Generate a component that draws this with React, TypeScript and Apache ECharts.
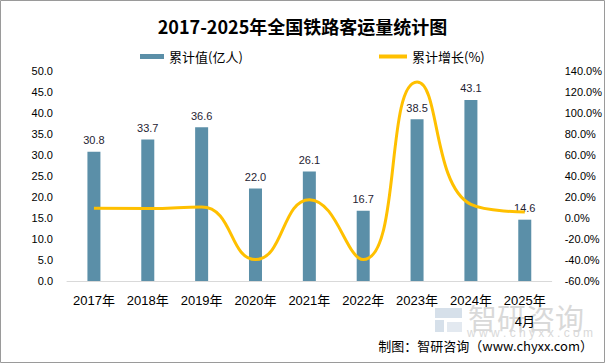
import React, { useEffect, useRef } from "react";
import * as echarts from "echarts";

const categories = ["2017年", "2018年", "2019年", "2020年", "2021年", "2022年", "2023年", "2024年", "2025年\n4月"];
const volumes = [30.8, 33.7, 36.6, 22.0, 26.1, 16.7, 38.5, 43.1, 14.6];
const growth = [9.2, 9.0, 10.5, -39.6, 17.5, -39.6, 129.5, 13.0, 5.8];
const leftTicks = { min: 0, max: 50, interval: 5 };
const rightTicks = { min: -60, max: 140, interval: 20 };

const SANS = "'Liberation Sans', 'Noto Sans CJK SC', sans-serif";
const CJK = "'Noto Sans CJK SC', sans-serif";

export default function App() {
  const ref = useRef<HTMLDivElement>(null);
  useEffect(() => {
    if (!ref.current) return;
    const chart = echarts.init(ref.current, null, { renderer: "svg" });
    chart.setOption({
      animation: false,
      backgroundColor: "#ffffff",
      textStyle: { fontFamily: SANS },
      title: {
        text: "2017-2025年全国铁路客运量统计图",
        left: "center",
        top: 12,
        textStyle: { fontFamily: CJK, fontSize: 18, fontWeight: "bold", color: "#000" },
      },
      legend: [
        {
          data: [{ name: "累计值(亿人)", icon: "rect" }],
          left: 135,
          top: 45,
          itemWidth: 24,
          itemHeight: 5,
          itemGap: 5,
          textStyle: { fontFamily: CJK, fontSize: 13, color: "#000" },
        },
        {
          data: [{ name: "累计增长(%)", icon: "rect" }],
          left: 374,
          top: 45,
          itemWidth: 28,
          itemHeight: 4,
          textStyle: { fontFamily: CJK, fontSize: 13, color: "#000" },
        },
      ],
      grid: { left: 67, right: 53, top: 71, bottom: 82 },
      xAxis: {
        type: "category",
        data: categories,
        axisLine: { lineStyle: { color: "#D9D9D9", width: 1 } },
        axisTick: { show: false },
        axisLabel: { fontSize: 13, color: "#000", margin: 9, lineHeight: 21, interval: 0 },
      },
      yAxis: [
        {
          type: "value",
          ...leftTicks,
          splitLine: { show: false },
          axisLine: { show: false },
          axisTick: { show: false },
          axisLabel: { fontSize: 11, color: "#000", margin: 14, formatter: (v: number) => v.toFixed(1) },
        },
        {
          type: "value",
          ...rightTicks,
          splitLine: { show: false },
          axisLine: { show: false },
          axisTick: { show: false },
          axisLabel: { fontSize: 11, color: "#000", margin: 13, formatter: (v: number) => v.toFixed(1) + "%" },
        },
      ],
      series: [
        {
          name: "累计值(亿人)",
          type: "bar",
          data: volumes,
          barWidth: 13,
          itemStyle: { color: "#5B8FA8" },
          label: {
            show: true,
            position: "top",
            distance: 6,
            fontSize: 11,
            color: "#1F2333",
            formatter: (p: any) => Number(p.value).toFixed(1),
          },
        },
        {
          name: "累计增长(%)",
          type: "line",
          yAxisIndex: 1,
          data: growth,
          smooth: 0.5,
          showSymbol: false,
          symbol: "none",
          lineStyle: { color: "#FFC000", width: 3 },
          itemStyle: { color: "#FFC000" },
        },
      ],
      graphic: [
        {
          type: "rect",
          shape: { x: 0.5, y: 0.5, width: 604, height: 362 },
          style: { fill: "none", stroke: "#9A9A9A", lineWidth: 1 },
          z: 100,
        },
        {
          type: "group",
          left: 435,
          top: 308,
          z: -1,
          children: [
            { type: "rect", shape: { x: 0, y: 0, width: 27, height: 10 }, style: { fill: "#D6E0EA" } },
            { type: "rect", shape: { x: 0, y: 12, width: 9, height: 12 }, style: { fill: "#D6E0EA" } },
            { type: "rect", shape: { x: 12, y: 14, width: 15, height: 10 }, style: { fill: "#E3E9F0" } },
          ],
        },
        {
          type: "text",
          left: 468,
          top: 302,
          z: -1,
          style: { text: "智研咨询", fontSize: 29, fontFamily: CJK, fill: "#D9D9D9" },
        },
        {
          type: "text",
          left: 467,
          top: 327,
          z: -1,
          style: { text: "w w w . c h y x x . c o m", fontSize: 12, fontFamily: SANS, fill: "#D9D9D9" },
        },
        {
          type: "text",
          right: 12,
          top: 339,
          style: { text: "制图：智研咨询（www.chyxx.com）", fontSize: 13, fontFamily: CJK, fill: "#000" },
        },
      ],
    });
    return () => chart.dispose();
  }, []);
  return (
    <div
      ref={ref}
      style={{ position: "absolute", left: 0, top: 0, width: 605, height: 363 }}
    />
  );
}
